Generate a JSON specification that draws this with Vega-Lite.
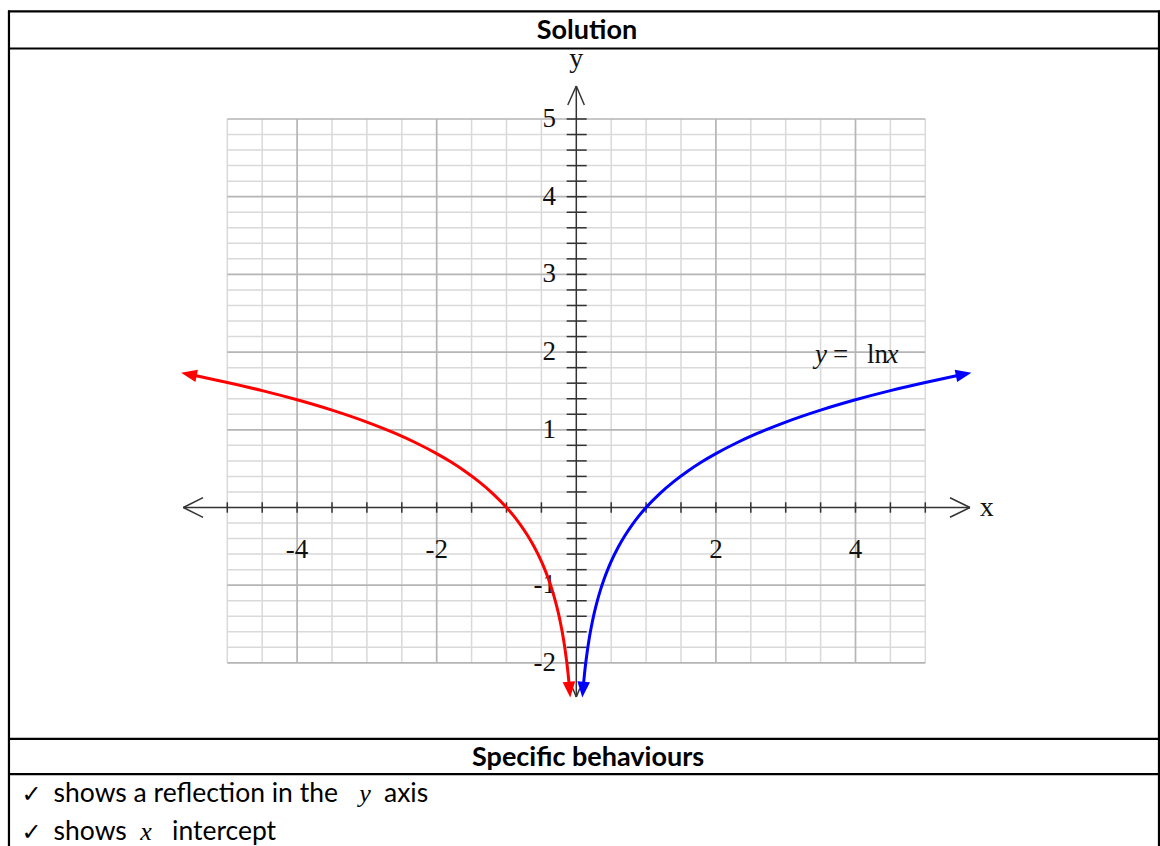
{
  "$schema": "https://vega.github.io/schema/vega-lite/v6.json",
  "width": 1160,
  "height": 846,
  "autosize": {"type": "fit", "contains": "padding"},
  "padding": 0,
  "background": "white",
  "config": {"view": {"stroke": null}},
  "datasets": {
    "vMinor": [
      {"gx": -5}, {"gx": -4.5}, {"gx": -3.5}, {"gx": -3}, {"gx": -2.5}, {"gx": -1.5}, {"gx": -1}, {"gx": -0.5},
      {"gx": 0.5}, {"gx": 1}, {"gx": 1.5}, {"gx": 2.5}, {"gx": 3}, {"gx": 3.5}, {"gx": 4.5}, {"gx": 5}
    ],
    "vMajor": [{"gx": -4}, {"gx": -2}, {"gx": 2}, {"gx": 4}],
    "hMinor": [
      {"gy": -1.8}, {"gy": -1.6}, {"gy": -1.4}, {"gy": -1.2}, {"gy": -0.8}, {"gy": -0.6}, {"gy": -0.4}, {"gy": -0.2},
      {"gy": 0.2}, {"gy": 0.4}, {"gy": 0.6}, {"gy": 0.8}, {"gy": 1.2}, {"gy": 1.4}, {"gy": 1.6}, {"gy": 1.8},
      {"gy": 2.2}, {"gy": 2.4}, {"gy": 2.6}, {"gy": 2.8}, {"gy": 3.2}, {"gy": 3.4}, {"gy": 3.6}, {"gy": 3.8},
      {"gy": 4.2}, {"gy": 4.4}, {"gy": 4.6}, {"gy": 4.8}
    ],
    "hMajor": [{"gy": -2}, {"gy": -1}, {"gy": 1}, {"gy": 2}, {"gy": 3}, {"gy": 4}, {"gy": 5}],
    "axisLines": [
      {"x": -5.63, "y": 0, "x2": 5.64, "y2": 0},
      {"x": 5.64, "y": 0, "x2": 5.354, "y2": 0.125},
      {"x": 5.64, "y": 0, "x2": 5.354, "y2": -0.125},
      {"x": -5.63, "y": 0, "x2": -5.347, "y2": 0.127},
      {"x": -5.63, "y": 0, "x2": -5.347, "y2": -0.127},
      {"x": 0, "y": 5.425, "x2": 0, "y2": -2.44},
      {"x": 0, "y": 5.425, "x2": -0.122, "y2": 5.18},
      {"x": 0, "y": 5.425, "x2": 0.115, "y2": 5.18},
      {"x": 0, "y": -2.44, "x2": -0.05, "y2": -2.33},
      {"x": 0, "y": -2.44, "x2": 0.05, "y2": -2.33}
    ],
    "xTicks": [
      {"t": -5}, {"t": -4.5}, {"t": -4}, {"t": -3.5}, {"t": -3}, {"t": -2.5}, {"t": -2}, {"t": -1.5}, {"t": -1}, {"t": -0.5},
      {"t": 0.5}, {"t": 1}, {"t": 1.5}, {"t": 2}, {"t": 2.5}, {"t": 3}, {"t": 3.5}, {"t": 4}, {"t": 4.5}, {"t": 5}
    ],
    "yTicks": [
      {"t": -2}, {"t": -1.8}, {"t": -1.6}, {"t": -1.4}, {"t": -1.2}, {"t": -1}, {"t": -0.8}, {"t": -0.6}, {"t": -0.4}, {"t": -0.2},
      {"t": 0.2}, {"t": 0.4}, {"t": 0.6}, {"t": 0.8}, {"t": 1}, {"t": 1.2}, {"t": 1.4}, {"t": 1.6}, {"t": 1.8}, {"t": 2},
      {"t": 2.2}, {"t": 2.4}, {"t": 2.6}, {"t": 2.8}, {"t": 3}, {"t": 3.2}, {"t": 3.4}, {"t": 3.6}, {"t": 3.8}, {"t": 4},
      {"t": 4.2}, {"t": 4.4}, {"t": 4.6}, {"t": 4.8}, {"t": 5}
    ],
    "yLabels": [
      {"v": 5, "txt": "5"}, {"v": 4, "txt": "4"}, {"v": 3, "txt": "3"}, {"v": 2, "txt": "2"},
      {"v": 1, "txt": "1"}, {"v": -1, "txt": "-1"}, {"v": -2, "txt": "-2"}
    ],
    "xLabels": [
      {"v": -4, "txt": "-4"}, {"v": -2, "txt": "-2"}, {"v": 2, "txt": "2"}, {"v": 4, "txt": "4"}
    ],
    "axisNames": [
      {"x": 0, "y": 5.669, "t": "y"},
      {"x": 5.88, "y": -0.109, "t": "x"}
    ],
    "eqnRoman": [
      {"x": 3.678, "y": 1.866, "t": "="},
      {"x": 4.165, "y": 1.866, "t": "ln"}
    ],
    "eqnItalic": [
      {"x": 3.42, "y": 1.866, "t": "y"},
      {"x": 4.444, "y": 1.866, "t": "x"}
    ],
    "curves": [
      {"branch": "original", "x": 0.105, "y": -2.254},
      {"branch": "original", "x": 0.12, "y": -2.12},
      {"branch": "original", "x": 0.14, "y": -1.966},
      {"branch": "original", "x": 0.16, "y": -1.833},
      {"branch": "original", "x": 0.18, "y": -1.715},
      {"branch": "original", "x": 0.2, "y": -1.609},
      {"branch": "original", "x": 0.23, "y": -1.47},
      {"branch": "original", "x": 0.26, "y": -1.347},
      {"branch": "original", "x": 0.3, "y": -1.204},
      {"branch": "original", "x": 0.35, "y": -1.05},
      {"branch": "original", "x": 0.4, "y": -0.916},
      {"branch": "original", "x": 0.45, "y": -0.799},
      {"branch": "original", "x": 0.5, "y": -0.693},
      {"branch": "original", "x": 0.6, "y": -0.511},
      {"branch": "original", "x": 0.7, "y": -0.357},
      {"branch": "original", "x": 0.8, "y": -0.223},
      {"branch": "original", "x": 0.9, "y": -0.105},
      {"branch": "original", "x": 1.0, "y": 0},
      {"branch": "original", "x": 1.2, "y": 0.182},
      {"branch": "original", "x": 1.4, "y": 0.336},
      {"branch": "original", "x": 1.6, "y": 0.47},
      {"branch": "original", "x": 1.8, "y": 0.588},
      {"branch": "original", "x": 2.0, "y": 0.693},
      {"branch": "original", "x": 2.3, "y": 0.833},
      {"branch": "original", "x": 2.6, "y": 0.956},
      {"branch": "original", "x": 3.0, "y": 1.099},
      {"branch": "original", "x": 3.5, "y": 1.253},
      {"branch": "original", "x": 4.0, "y": 1.386},
      {"branch": "original", "x": 4.5, "y": 1.504},
      {"branch": "original", "x": 5.0, "y": 1.609},
      {"branch": "original", "x": 5.45, "y": 1.696},
      {"branch": "reflected", "x": -0.105, "y": -2.254},
      {"branch": "reflected", "x": -0.12, "y": -2.12},
      {"branch": "reflected", "x": -0.14, "y": -1.966},
      {"branch": "reflected", "x": -0.16, "y": -1.833},
      {"branch": "reflected", "x": -0.18, "y": -1.715},
      {"branch": "reflected", "x": -0.2, "y": -1.609},
      {"branch": "reflected", "x": -0.23, "y": -1.47},
      {"branch": "reflected", "x": -0.26, "y": -1.347},
      {"branch": "reflected", "x": -0.3, "y": -1.204},
      {"branch": "reflected", "x": -0.35, "y": -1.05},
      {"branch": "reflected", "x": -0.4, "y": -0.916},
      {"branch": "reflected", "x": -0.45, "y": -0.799},
      {"branch": "reflected", "x": -0.5, "y": -0.693},
      {"branch": "reflected", "x": -0.6, "y": -0.511},
      {"branch": "reflected", "x": -0.7, "y": -0.357},
      {"branch": "reflected", "x": -0.8, "y": -0.223},
      {"branch": "reflected", "x": -0.9, "y": -0.105},
      {"branch": "reflected", "x": -1.0, "y": 0},
      {"branch": "reflected", "x": -1.2, "y": 0.182},
      {"branch": "reflected", "x": -1.4, "y": 0.336},
      {"branch": "reflected", "x": -1.6, "y": 0.47},
      {"branch": "reflected", "x": -1.8, "y": 0.588},
      {"branch": "reflected", "x": -2.0, "y": 0.693},
      {"branch": "reflected", "x": -2.3, "y": 0.833},
      {"branch": "reflected", "x": -2.6, "y": 0.956},
      {"branch": "reflected", "x": -3.0, "y": 1.099},
      {"branch": "reflected", "x": -3.5, "y": 1.253},
      {"branch": "reflected", "x": -4.0, "y": 1.386},
      {"branch": "reflected", "x": -4.5, "y": 1.504},
      {"branch": "reflected", "x": -5.0, "y": 1.609},
      {"branch": "reflected", "x": -5.45, "y": 1.696}
    ],
    "arrowHeads": [
      {"branch": "original", "x": 5.661, "y": 1.734, "heading": 348.8},
      {"branch": "reflected", "x": -5.661, "y": 1.734, "heading": 191.2},
      {"branch": "original", "x": 0.086, "y": -2.445, "heading": 95.1},
      {"branch": "reflected", "x": -0.086, "y": -2.445, "heading": 84.9}
    ],
    "frame": [
      {"x": -8.128, "y": 6.397, "x2": -8.128, "y2": -4.3565},
      {"x": 8.348, "y": 6.397, "x2": 8.348, "y2": -4.3565},
      {"x": -8.142, "y": 6.384, "x2": 8.362, "y2": 6.384},
      {"x": -8.142, "y": 5.907, "x2": 8.362, "y2": 5.907},
      {"x": -8.142, "y": -2.979, "x2": 8.362, "y2": -2.979},
      {"x": -8.142, "y": -3.432, "x2": 8.362, "y2": -3.432}
    ],
    "headings": [
      {"t": "Solution", "x": 0.153, "y": 6.03},
      {"t": "Specific behaviours", "x": 0.168, "y": -3.327}
    ],
    "bodyText": [
      {"t": "shows a reflection in the", "x": -7.489, "y": -3.784},
      {"t": "axis", "x": -2.755, "y": -3.784},
      {"t": "shows", "x": -7.489, "y": -4.273},
      {"t": "intercept", "x": -5.792, "y": -4.273}
    ],
    "ticks": [
      {"t": "✓", "x": -7.95, "y": -3.784},
      {"t": "✓", "x": -7.95, "y": -4.273}
    ],
    "bodyItalic": [
      {"t": "y", "x": -3.027, "y": -3.784},
      {"t": "x", "x": -6.165, "y": -4.273}
    ]
  },
  "layer": [
    {
      "data": {"name": "vMinor"},
      "mark": {"type": "rule", "color": "#d9d9d9", "strokeWidth": 1.5},
      "encoding": {
        "x": {"field": "gx", "type": "quantitative", "scale": {"domain": [-8.2564, 8.3625], "nice": false, "zero": false}, "axis": null},
        "y": {"datum": -2, "type": "quantitative", "scale": {"domain": [-4.3565, 6.5315], "nice": false, "zero": false}, "axis": null},
        "y2": {"datum": 5}
      }
    },
    {
      "data": {"name": "hMinor"},
      "mark": {"type": "rule", "color": "#d9d9d9", "strokeWidth": 1.5},
      "encoding": {
        "y": {"field": "gy", "type": "quantitative", "scale": {"domain": [-4.3565, 6.5315], "nice": false, "zero": false}, "axis": null},
        "x": {"datum": -5, "type": "quantitative", "scale": {"domain": [-8.2564, 8.3625], "nice": false, "zero": false}, "axis": null},
        "x2": {"datum": 5}
      }
    },
    {
      "data": {"name": "vMajor"},
      "mark": {"type": "rule", "color": "#b5b5b5", "strokeWidth": 1.7},
      "encoding": {
        "x": {"field": "gx", "type": "quantitative", "scale": {"domain": [-8.2564, 8.3625], "nice": false, "zero": false}, "axis": null},
        "y": {"datum": -2, "type": "quantitative", "scale": {"domain": [-4.3565, 6.5315], "nice": false, "zero": false}, "axis": null},
        "y2": {"datum": 5}
      }
    },
    {
      "data": {"name": "hMajor"},
      "mark": {"type": "rule", "color": "#b5b5b5", "strokeWidth": 1.7},
      "encoding": {
        "y": {"field": "gy", "type": "quantitative", "scale": {"domain": [-4.3565, 6.5315], "nice": false, "zero": false}, "axis": null},
        "x": {"datum": -5, "type": "quantitative", "scale": {"domain": [-8.2564, 8.3625], "nice": false, "zero": false}, "axis": null},
        "x2": {"datum": 5}
      }
    },
    {
      "data": {"name": "axisLines"},
      "mark": {"type": "rule", "color": "#333333", "strokeWidth": 1.5},
      "encoding": {
        "x": {"field": "x", "type": "quantitative", "scale": {"domain": [-8.2564, 8.3625], "nice": false, "zero": false}, "axis": null},
        "y": {"field": "y", "type": "quantitative", "scale": {"domain": [-4.3565, 6.5315], "nice": false, "zero": false}, "axis": null},
        "x2": {"field": "x2"},
        "y2": {"field": "y2"}
      }
    },
    {
      "data": {"name": "xTicks"},
      "mark": {"type": "rule", "color": "#333333", "strokeWidth": 1.5},
      "encoding": {
        "x": {"field": "t", "type": "quantitative", "scale": {"domain": [-8.2564, 8.3625], "nice": false, "zero": false}, "axis": null},
        "y": {"datum": -0.067, "type": "quantitative", "scale": {"domain": [-4.3565, 6.5315], "nice": false, "zero": false}, "axis": null},
        "y2": {"datum": 0.067}
      }
    },
    {
      "data": {"name": "yTicks"},
      "mark": {"type": "rule", "color": "#333333", "strokeWidth": 1.5},
      "encoding": {
        "y": {"field": "t", "type": "quantitative", "scale": {"domain": [-4.3565, 6.5315], "nice": false, "zero": false}, "axis": null},
        "x": {"datum": -0.138, "type": "quantitative", "scale": {"domain": [-8.2564, 8.3625], "nice": false, "zero": false}, "axis": null},
        "x2": {"datum": 0.149}
      }
    },
    {
      "data": {"name": "yLabels"},
      "mark": {"type": "text", "font": "Liberation Serif", "fontSize": 27, "align": "right", "baseline": "middle", "color": "#111111"},
      "encoding": {
        "y": {"field": "v", "type": "quantitative", "scale": {"domain": [-4.3565, 6.5315], "nice": false, "zero": false}, "axis": null},
        "x": {"datum": -0.29, "type": "quantitative", "scale": {"domain": [-8.2564, 8.3625], "nice": false, "zero": false}, "axis": null},
        "text": {"field": "txt"}
      }
    },
    {
      "data": {"name": "xLabels"},
      "mark": {"type": "text", "font": "Liberation Serif", "fontSize": 27, "align": "center", "baseline": "middle", "color": "#111111"},
      "encoding": {
        "x": {"field": "v", "type": "quantitative", "scale": {"domain": [-8.2564, 8.3625], "nice": false, "zero": false}, "axis": null},
        "y": {"datum": -0.547, "type": "quantitative", "scale": {"domain": [-4.3565, 6.5315], "nice": false, "zero": false}, "axis": null},
        "text": {"field": "txt"}
      }
    },
    {
      "data": {"name": "axisNames"},
      "mark": {"type": "text", "font": "Liberation Serif", "fontSize": 28, "align": "center", "baseline": "alphabetic", "color": "#111111"},
      "encoding": {
        "x": {"field": "x", "type": "quantitative", "scale": {"domain": [-8.2564, 8.3625], "nice": false, "zero": false}, "axis": null},
        "y": {"field": "y", "type": "quantitative", "scale": {"domain": [-4.3565, 6.5315], "nice": false, "zero": false}, "axis": null},
        "text": {"field": "t"}
      }
    },
    {
      "data": {"name": "eqnRoman"},
      "mark": {"type": "text", "font": "Liberation Serif", "fontSize": 27, "align": "left", "baseline": "alphabetic", "color": "#111111"},
      "encoding": {
        "x": {"field": "x", "type": "quantitative", "scale": {"domain": [-8.2564, 8.3625], "nice": false, "zero": false}, "axis": null},
        "y": {"field": "y", "type": "quantitative", "scale": {"domain": [-4.3565, 6.5315], "nice": false, "zero": false}, "axis": null},
        "text": {"field": "t"}
      }
    },
    {
      "data": {"name": "eqnItalic"},
      "mark": {"type": "text", "font": "Liberation Serif", "fontStyle": "italic", "fontSize": 27, "align": "left", "baseline": "alphabetic", "color": "#111111"},
      "encoding": {
        "x": {"field": "x", "type": "quantitative", "scale": {"domain": [-8.2564, 8.3625], "nice": false, "zero": false}, "axis": null},
        "y": {"field": "y", "type": "quantitative", "scale": {"domain": [-4.3565, 6.5315], "nice": false, "zero": false}, "axis": null},
        "text": {"field": "t"}
      }
    },
    {
      "data": {"name": "curves"},
      "mark": {"type": "line", "strokeWidth": 3, "interpolate": "monotone"},
      "encoding": {
        "x": {"field": "x", "type": "quantitative", "scale": {"domain": [-8.2564, 8.3625], "nice": false, "zero": false}, "axis": null},
        "y": {"field": "y", "type": "quantitative", "scale": {"domain": [-4.3565, 6.5315], "nice": false, "zero": false}, "axis": null},
        "color": {"field": "branch", "type": "nominal", "scale": {"domain": ["reflected", "original"], "range": ["#ff0000", "#0000ff"]}, "legend": null}
      }
    },
    {
      "data": {"name": "arrowHeads"},
      "mark": {"type": "point", "shape": "M0,0L-2,-0.8L-2,0.8Z", "filled": true, "size": 250, "opacity": 1},
      "encoding": {
        "x": {"field": "x", "type": "quantitative", "scale": {"domain": [-8.2564, 8.3625], "nice": false, "zero": false}, "axis": null},
        "y": {"field": "y", "type": "quantitative", "scale": {"domain": [-4.3565, 6.5315], "nice": false, "zero": false}, "axis": null},
        "color": {"field": "branch", "type": "nominal", "scale": {"domain": ["reflected", "original"], "range": ["#ff0000", "#0000ff"]}, "legend": null},
        "angle": {"field": "heading", "type": "quantitative", "scale": null}
      }
    },
    {
      "data": {"name": "frame"},
      "mark": {"type": "rule", "color": "#000000", "strokeWidth": 2.2, "clip": true},
      "encoding": {
        "x": {"field": "x", "type": "quantitative", "scale": {"domain": [-8.2564, 8.3625], "nice": false, "zero": false}, "axis": null},
        "y": {"field": "y", "type": "quantitative", "scale": {"domain": [-4.3565, 6.5315], "nice": false, "zero": false}, "axis": null},
        "x2": {"field": "x2"},
        "y2": {"field": "y2"}
      }
    },
    {
      "data": {"name": "headings"},
      "mark": {"type": "text", "font": "Lato", "fontWeight": "bold", "fontSize": 27, "align": "center", "baseline": "alphabetic", "color": "#000000"},
      "encoding": {
        "x": {"field": "x", "type": "quantitative", "scale": {"domain": [-8.2564, 8.3625], "nice": false, "zero": false}, "axis": null},
        "y": {"field": "y", "type": "quantitative", "scale": {"domain": [-4.3565, 6.5315], "nice": false, "zero": false}, "axis": null},
        "text": {"field": "t"}
      }
    },
    {
      "data": {"name": "bodyText"},
      "mark": {"type": "text", "font": "Lato", "fontSize": 26.5, "align": "left", "baseline": "alphabetic", "color": "#000000", "clip": true},
      "encoding": {
        "x": {"field": "x", "type": "quantitative", "scale": {"domain": [-8.2564, 8.3625], "nice": false, "zero": false}, "axis": null},
        "y": {"field": "y", "type": "quantitative", "scale": {"domain": [-4.3565, 6.5315], "nice": false, "zero": false}, "axis": null},
        "text": {"field": "t"}
      }
    },
    {
      "data": {"name": "ticks"},
      "mark": {"type": "text", "font": "DejaVu Sans", "fontSize": 24, "align": "left", "baseline": "alphabetic", "color": "#000000", "clip": true},
      "encoding": {
        "x": {"field": "x", "type": "quantitative", "scale": {"domain": [-8.2564, 8.3625], "nice": false, "zero": false}, "axis": null},
        "y": {"field": "y", "type": "quantitative", "scale": {"domain": [-4.3565, 6.5315], "nice": false, "zero": false}, "axis": null},
        "text": {"field": "t"}
      }
    },
    {
      "data": {"name": "bodyItalic"},
      "mark": {"type": "text", "font": "Liberation Serif", "fontStyle": "italic", "fontSize": 26, "align": "center", "baseline": "alphabetic", "color": "#000000", "clip": true},
      "encoding": {
        "x": {"field": "x", "type": "quantitative", "scale": {"domain": [-8.2564, 8.3625], "nice": false, "zero": false}, "axis": null},
        "y": {"field": "y", "type": "quantitative", "scale": {"domain": [-4.3565, 6.5315], "nice": false, "zero": false}, "axis": null},
        "text": {"field": "t"}
      }
    }
  ]
}
